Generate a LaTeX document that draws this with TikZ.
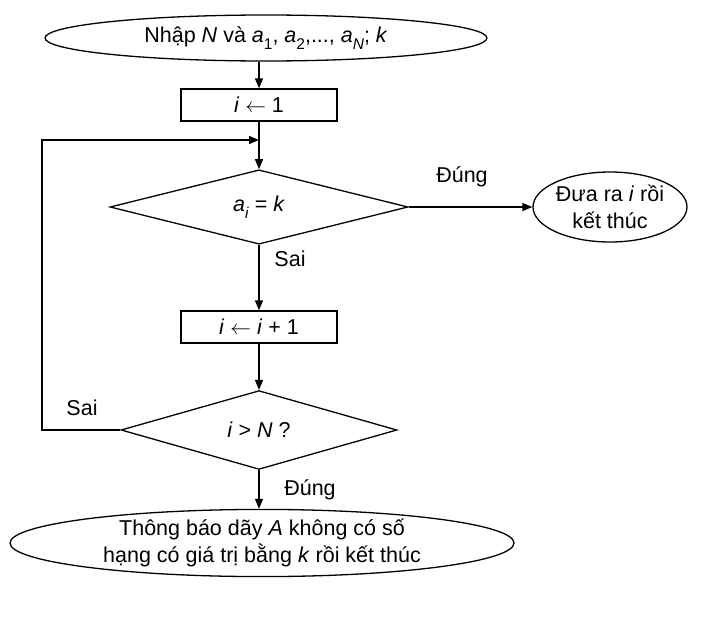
\documentclass[tikz,border=0pt]{standalone}
\usepackage{fontspec}
\setmainfont{Liberation Sans}
\usetikzlibrary{shapes.geometric,arrows.meta}
\newcommand\sbs[1]{\raisebox{-0.32em}{\fontsize{15.5}{16}\selectfont #1}}
\tikzset{
  base/.style={draw=black, line width=1.3pt, align=center, font=\fontsize{21.5}{26.5}\selectfont, inner sep=0pt},
  ell/.style={base, ellipse},
  procbox/.style={base, rectangle, minimum width=156pt, minimum height=32pt},
  decision/.style={base, diamond},
  arr/.style={line width=1.3pt, -{Triangle[length=10pt,width=8pt]}},
  lbl/.style={font=\fontsize{21.5}{26.5}\selectfont, inner sep=0pt}
}
\begin{document}
\begin{tikzpicture}[x=1pt,y=-1pt]
\useasboundingbox (0,0) rectangle (701,629);
\node[ell, minimum width=442pt, minimum height=46pt] (start) at (266,38)
  {Nhập \textit{N} và \textit{a}\sbs{1}, \textit{a}\sbs{2},..., \textit{a}\sbs{\textit{N}}; \textit{k}};
\node[procbox] (b1) at (259,105) {\textit{i} \ensuremath{\leftarrow} 1};
\node[decision, minimum width=298pt, minimum height=62pt] (d1) at (259,207)
  {\textit{a}\sbs{\textit{i}} = \textit{k}};
\node[ell, minimum width=154pt, minimum height=70pt] (r) at (610,207)
  {Đưa ra \textit{i} rồi\\kết thúc};
\node[procbox] (b2) at (259,327) {\textit{i} \ensuremath{\leftarrow} \textit{i} + 1};
\node[decision, minimum width=276pt, minimum height=62pt] (d2) at (259,430)
  {\textit{i} > \textit{N} ?};
\node[ell, minimum width=504pt, minimum height=62pt] (stop) at (262,543)
  {Thông báo dãy \textit{A} không có số\\hạng có giá trị bằng \textit{k} rồi kết thúc};
\coordinate (lp) at (42,140);
\draw[arr] (b1.north |- start.south) -- (b1.north);
\draw[arr] (b1) -- (d1);
\draw[arr] (d2.west) -| (lp) -- (b1.south |- lp);
\draw[arr] (d1.east) -- (r.west);
\draw[arr] (d1.south) -- (b2.north);
\draw[arr] (b2) -- (d2);
\draw[arr] (d2.south) -- (d2.south |- stop.north);
\node[lbl] (l1) at (462,177) {Đúng};
\node[lbl] (l2) at (290,259) {Sai};
\node[lbl] (l3) at (82,408) {Sai};
\node[lbl] (l4) at (310,490) {Đúng};
\end{tikzpicture}
\end{document}
